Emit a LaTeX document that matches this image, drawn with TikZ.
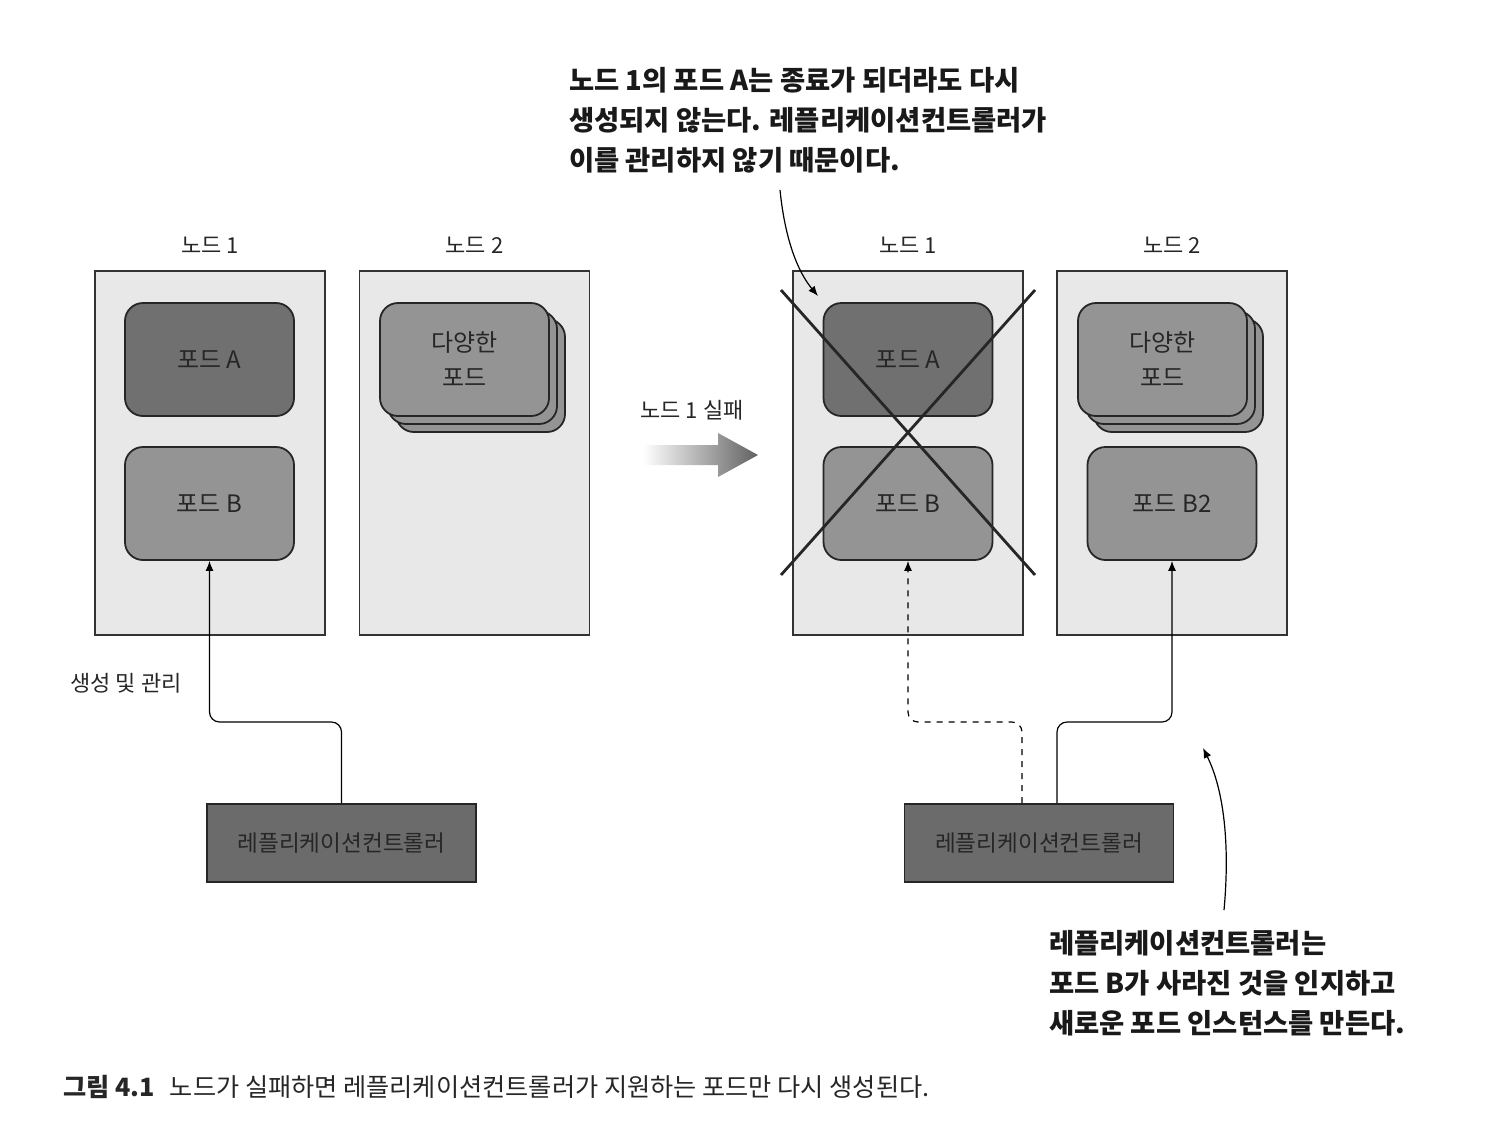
\documentclass[tikz,border=0pt]{standalone}
\usepackage{fontspec}
\setmainfont{Noto Sans CJK KR}
\usepackage{tikz}
\usetikzlibrary{arrows.meta,positioning,calc}

\tikzset{
  nodebox/.style = {draw=black!80, fill=black!9, line width=0.8pt,
                    minimum width=115pt, minimum height=182pt, inner sep=0pt},
  podbox/.style  = {draw=black!85, line width=0.9pt, rounded corners=9pt,
                    minimum width=84.5pt, minimum height=56.5pt, inner sep=0pt,
                    align=center, text=black!85, font=\fontsize{12}{17.5}\selectfont},
  ctrlbox/.style = {draw=black!85, fill=black!58, line width=0.9pt,
                    minimum width=134.5pt, minimum height=39pt, inner sep=0pt,
                    text=black!85, font=\fontsize{11.3}{13}\selectfont},
  nodelabel/.style = {text=black!85, font=\fontsize{11}{13}\selectfont},
  note/.style    = {align=left, anchor=north west, text=black!90,
                    font=\bfseries\fontsize{13.7}{20}\selectfont},
  link/.style    = {line width=0.6pt, rounded corners=5pt, -{Latex[length=5pt,width=4pt]}},
  cross/.style   = {line width=1.4pt, black!85},
}

\begin{document}
\begin{tikzpicture}[x=0.5pt, y=-0.5pt]
  \useasboundingbox (0,0) rectangle (1498,1136);

  % 왼쪽: 노드 1, 노드 2
  \node[nodebox] (lnode1) at (210,453) {};
  \node[nodebox] (lnode2) at (474.5,453) {};
  \node[nodelabel, above=5pt of lnode1] (lnode1l) {노드 1};
  \node[nodelabel, above=5pt of lnode2] (lnode2l) {노드 2};
  % 포드
  \node[podbox, fill=black!56] (lpodA) at (209.5,359.5) {포드 A};
  \node[podbox, fill=black!42] (lpodB) at (209.5,503.5) {포드 B};
  \node[podbox, fill=black!42] (lstack3) at (480.5,375.5) {};
  \node[podbox, fill=black!42] (lstack2) at (472.5,367.5) {};
  \node[podbox, fill=black!42] (lstack) at (464.5,359.5) {다양한\\포드};
  % 컨트롤러
  \node[ctrlbox] (lctrl) at (341.5,843) {레플리케이션컨트롤러};
  \coordinate (lbend) at (275,722);
  \draw[link] (lctrl.north) |- (lbend) -| (lpodB.south);
  \node[nodelabel] (lmanage) at (126,683) {생성 및 관리};

  % 노드 1 실패
  \node[nodelabel] (fail) at (692,410) {노드 1 실패};
  \shade[left color=white, middle color=black!45, right color=black!62]
    (643,445) -- (718,445) -- (718,433) -- (758,455) -- (718,477)
    -- (718,465) -- (643,465) -- cycle;

  % 오른쪽: 노드 1, 노드 2
  \node[nodebox] (rnode1) at (908,453) {};
  \node[nodebox] (rnode2) at (1172,453) {};
  \node[nodelabel, above=5pt of rnode1] (rnode1l) {노드 1};
  \node[nodelabel, above=5pt of rnode2] (rnode2l) {노드 2};
  \node[podbox, fill=black!56] (rpodA) at (908,359.5) {포드 A};
  \node[podbox, fill=black!42] (rpodB) at (908,503.5) {포드 B};
  \node[podbox, fill=black!42] (rstack3) at (1178.5,375.5) {};
  \node[podbox, fill=black!42] (rstack2) at (1170.5,367.5) {};
  \node[podbox, fill=black!42] (rstack) at (1162.5,359.5) {다양한\\포드};
  \node[podbox, fill=black!42] (rpodB2) at (1172,503.5) {포드 B2};
  % X 표시
  \draw[cross] (781,290) -- (1035,575);
  \draw[cross] (1035,290) -- (781,575);
  % 컨트롤러
  \node[ctrlbox] (rctrl) at (1039,843) {레플리케이션컨트롤러};
  \coordinate (rbend1) at (965,722);
  \coordinate (rbend2) at (1115,722);
  \draw[link, dashed] ([xshift=-8.5pt]rctrl.north) |- (rbend1) -| (rpodB.south);
  \draw[link] ([xshift=9pt]rctrl.north) |- (rbend2) -| (rpodB2.south);

  % 설명
  \node[note] (note1) at (562,60) {노드 1의 포드 A는 종료가 되더라도 다시\\
    생성되지 않는다. 레플리케이션컨트롤러가\\이를 관리하지 않기 때문이다.};
  \coordinate (n1start) at (780,190);
  \coordinate (n1end) at (818,296);
  \draw[line width=0.6pt, -{Latex[length=5pt,width=4pt]}]
    (n1start) .. controls (785,240) and (798,272) .. (n1end);
  \node[note] (note2) at (1042,923) {레플리케이션컨트롤러는\\
    포드 B가 사라진 것을 인지하고\\새로운 포드 인스턴스를 만든다.};
  \coordinate (n2start) at (1224,910);
  \coordinate (n2end) at (1203,748);
  \draw[line width=0.6pt, -{Latex[length=5pt,width=4pt]}]
    (n2start) .. controls (1230,845) and (1224,790) .. (n2end);

  % 그림 설명
  \node[anchor=west, text=black!85, font=\fontsize{12.6}{15}\selectfont] (caption) at (56,1087)
    {\textbf{그림 4.1}\hspace{0.6em}노드가 실패하면 레플리케이션컨트롤러가 지원하는 포드만 다시 생성된다.};
\end{tikzpicture}
\end{document}
